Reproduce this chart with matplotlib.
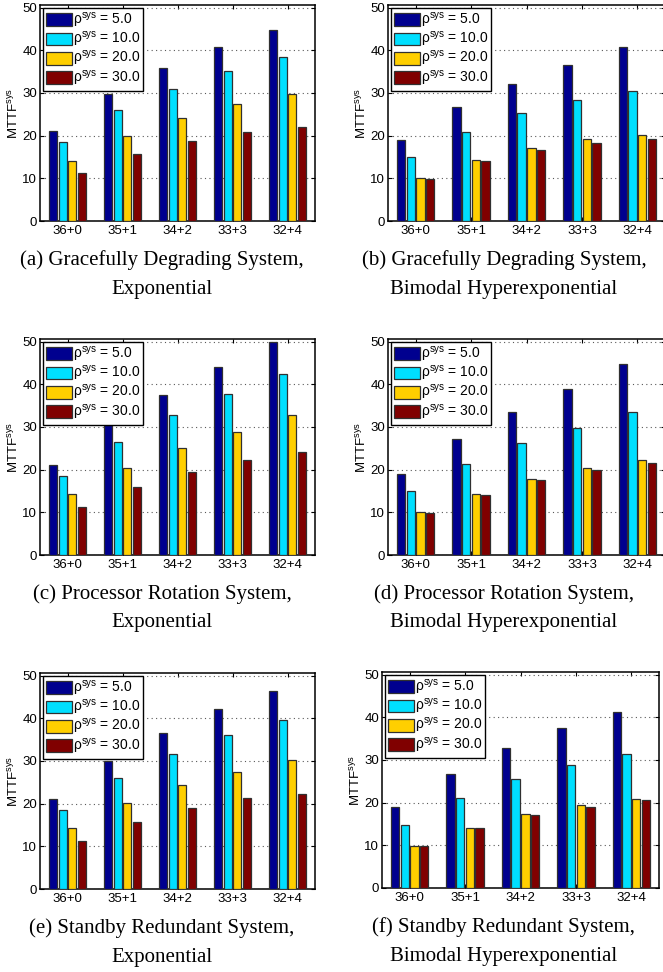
import matplotlib
matplotlib.use("Agg")
from matplotlib import pyplot as plt
import numpy as np

plt.rcParams['font.family'] = ['Liberation Sans', 'DejaVu Sans']
plt.rcParams['mathtext.fontset'] = 'custom'
plt.rcParams['mathtext.rm'] = 'Liberation Sans'
plt.rcParams['mathtext.it'] = 'Liberation Sans:italic'

configs = ['36+0', '35+1', '34+2', '33+3', '32+4']
rho = ['5.0', '10.0', '20.0', '30.0']
colors = ['#00008F', '#00DFFF', '#FFCF00', '#800000']

# MTTF values, one row per rho, one column per configuration
grace_exp = [[21.2, 29.7, 35.9, 40.7, 44.8],
             [18.4, 25.9, 31.0, 35.2, 38.4],
             [14.1, 20.0, 24.1, 27.3, 29.8],
             [11.2, 15.7, 18.7, 20.9, 22.0]]
grace_hyp = [[18.9, 26.6, 32.2, 36.5, 40.7],
             [14.9, 20.9, 25.3, 28.4, 30.4],
             [10.1, 14.2, 17.2, 19.1, 20.2],
             [9.9, 14.0, 16.7, 18.2, 19.1]]
rot_exp = [[21.1, 30.4, 37.5, 44.0, 49.8],
           [18.4, 26.4, 32.7, 37.7, 42.3],
           [14.2, 20.3, 25.0, 28.8, 32.7],
           [11.2, 15.9, 19.5, 22.2, 24.1]]
rot_hyp = [[18.9, 27.2, 33.6, 38.8, 44.8],
           [14.9, 21.3, 26.3, 29.8, 33.4],
           [10.0, 14.4, 17.9, 20.3, 22.3],
           [9.9, 14.1, 17.5, 19.8, 21.6]]
stb_exp = [[21.1, 30.0, 36.5, 42.1, 46.5],
           [18.4, 26.1, 31.6, 36.0, 39.5],
           [14.2, 20.1, 24.3, 27.5, 30.3],
           [11.2, 15.8, 19.0, 21.3, 22.3]]
stb_hyp = [[18.9, 26.8, 32.7, 37.4, 41.2],
           [14.8, 21.0, 25.6, 28.8, 31.5],
           [9.9, 14.1, 17.3, 19.4, 20.9],
           [9.8, 14.0, 17.0, 18.9, 20.6]]

captions = ['(a) Gracefully Degrading System,\nExponential',
            '(b) Gracefully Degrading System,\nBimodal Hyperexponential',
            '(c) Processor Rotation System,\nExponential',
            '(d) Processor Rotation System,\nBimodal Hyperexponential',
            '(e) Standby Redundant System,\nExponential',
            '(f) Standby Redundant System,\nBimodal Hyperexponential']

W, H = 663, 972
fig = plt.figure(figsize=(W / 100, H / 100), dpi=100)

# axes boxes in pixels: left, bottom(y from top), width
boxes = [(40, 221, 275), (388, 221, 277),
         (40, 555, 275), (388, 555, 277),
         (40, 889, 275), (382, 888, 277)]
datasets = [grace_exp, grace_hyp, rot_exp, rot_hyp, stb_exp, stb_hyp]
ax_h = 216

x = np.arange(1, 6)
pitch = 0.175
bw = 0.15

for i, (box, data) in enumerate(zip(boxes, datasets)):
    left, bot, w = box
    ax = fig.add_axes([left / W, 1 - bot / H, w / W, ax_h / H])
    for k in range(4):
        ax.bar(x + (k - 1.5) * pitch, data[k], bw, color=colors[k],
               edgecolor='#303030', linewidth=0.9, zorder=3,
               label=r'ρ$^{\mathrm{sys}}$ = ' + rho[k])
    ax.set_xlim(0.5, 5.5)
    ax.set_ylim(0, 50.6)
    ax.set_xticks(x)
    ax.set_xticklabels(configs, fontsize=9)
    ax.set_yticks([0, 10, 20, 30, 40, 50])
    ax.tick_params(direction='in', length=3, width=0.8, top=True, right=True,
                   labelsize=9.5)
    ax.tick_params(axis='x', pad=3)
    ax.tick_params(axis='y', pad=2)
    ax.yaxis.grid(True, linestyle=(0, (1, 3)), color='0.35', linewidth=0.8)
    for s in ax.spines.values():
        s.set_linewidth(1.1)
    ax.set_ylabel(r'MTTF$^{\mathrm{sys}}$', fontsize=9.5, labelpad=1)
    leg = ax.legend(loc='upper left', fontsize=10, handlelength=1.85,
                    handleheight=1.05, labelspacing=0.02, handletextpad=0.1,
                    borderpad=0.22, borderaxespad=0.2, fancybox=False,
                    framealpha=1, edgecolor='black')
    leg.get_frame().set_linewidth(1.0)
    leg.set_zorder(5)

    cx = 162 if i % 2 == 0 else 504
    line1, line2 = captions[i].split('\n')
    fig.text(cx / W, 1 - (bot + 39) / H, line1,
             ha='center', va='center', fontsize=15, family='Liberation Serif')
    fig.text(cx / W, 1 - (bot + 68) / H, line2,
             ha='center', va='center', fontsize=15, family='Liberation Serif')

fig.savefig('out.png', dpi=100)
